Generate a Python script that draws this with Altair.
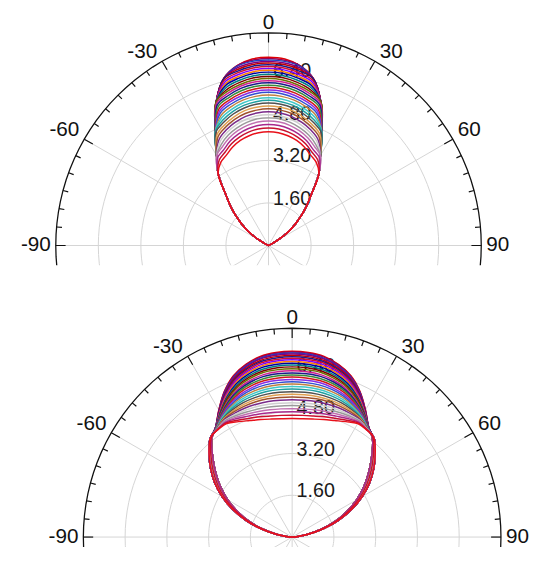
import altair as alt
import pandas as pd

# ---------------- data ----------------
ring_values = [1.6, 3.2, 4.8, 6.4]
ring_labels = ["1.60", "3.20", "4.80", "6.40"]
outer_radius = 8.0
spoke_angles = [0, 30, 60, 90, 120, 150, 180, 210, 240, 270, 300, 330]
label_angles = [-90, -60, -30, 0, 30, 60, 90]
label_texts = ["-90", "-60", "-30", "0", "30", "60", "90"]

# upper chart: radius at 0,5,...,30 deg (curve by curve, innermost first)
top_half_angles = [0, 5, 10, 15, 20, 25, 30]
top_profiles = [
    [4.28, 4.26, 4.19, 4.09, 3.94, 3.75, 3.60],
    [4.42, 4.40, 4.33, 4.22, 4.07, 3.87, 3.71],
    [4.55, 4.53, 4.46, 4.35, 4.19, 3.98, 3.82],
    [4.68, 4.66, 4.59, 4.47, 4.31, 4.10, 3.90],
    [4.80, 4.78, 4.70, 4.58, 4.42, 4.20, 3.90],
    [4.92, 4.90, 4.82, 4.70, 4.53, 4.31, 3.90],
    [5.03, 5.00, 4.93, 4.80, 4.63, 4.40, 3.90],
    [5.14, 5.11, 5.04, 4.91, 4.73, 4.50, 3.90],
    [5.25, 5.22, 5.15, 5.01, 4.83, 4.59, 3.90],
    [5.36, 5.33, 5.25, 5.12, 4.93, 4.69, 3.90],
    [5.46, 5.43, 5.35, 5.21, 5.02, 4.73, 3.90],
    [5.56, 5.53, 5.45, 5.31, 5.12, 4.73, 3.90],
    [5.66, 5.63, 5.55, 5.41, 5.21, 4.73, 3.90],
    [5.76, 5.73, 5.64, 5.50, 5.30, 4.73, 3.90],
    [5.85, 5.82, 5.73, 5.59, 5.38, 4.73, 3.90],
    [5.94, 5.91, 5.82, 5.67, 5.46, 4.73, 3.90],
    [6.03, 6.00, 5.91, 5.76, 5.55, 4.73, 3.90],
    [6.12, 6.09, 6.00, 5.84, 5.63, 4.73, 3.90],
    [6.20, 6.17, 6.08, 5.92, 5.70, 4.73, 3.90],
    [6.28, 6.25, 6.15, 6.00, 5.75, 4.73, 3.90],
    [6.36, 6.33, 6.23, 6.07, 5.75, 4.73, 3.90],
    [6.44, 6.41, 6.31, 6.15, 5.75, 4.73, 3.90],
    [6.52, 6.49, 6.39, 6.23, 5.75, 4.73, 3.90],
    [6.59, 6.56, 6.46, 6.29, 5.75, 4.73, 3.90],
    [6.66, 6.63, 6.53, 6.36, 5.75, 4.73, 3.90],
    [6.73, 6.70, 6.60, 6.43, 5.75, 4.73, 3.90],
    [6.80, 6.77, 6.66, 6.49, 5.75, 4.73, 3.90],
    [6.86, 6.83, 6.72, 6.50, 5.75, 4.73, 3.90],
    [6.92, 6.89, 6.78, 6.50, 5.75, 4.73, 3.90],
    [6.98, 6.95, 6.84, 6.50, 5.75, 4.73, 3.90],
    [7.03, 6.99, 6.86, 6.50, 5.75, 4.73, 3.90],
    [7.08, 7.04, 6.86, 6.50, 5.75, 4.73, 3.90],
]
# shared lower flank of the upper chart
top_flank_angles = [35, 40, 45, 50, 55, 60, 65, 70]
top_flank = [3.30, 2.50, 1.95, 1.42, 0.95, 0.40, 0.06, 0.0]

# lower chart: radius at 0,5,...,35 deg (innermost first)
bottom_half_angles = [0, 5, 10, 15, 20, 25, 30, 35]
bottom_profiles = [
    [4.54, 4.55, 4.59, 4.66, 4.75, 4.88, 5.02, 5.00],
    [4.67, 4.68, 4.71, 4.77, 4.84, 4.94, 5.05, 5.01],
    [4.80, 4.81, 4.84, 4.88, 4.93, 5.01, 5.08, 5.01],
    [4.92, 4.93, 4.95, 4.98, 5.02, 5.07, 5.11, 5.02],
    [5.04, 5.04, 5.06, 5.08, 5.10, 5.13, 5.14, 5.02],
    [5.15, 5.15, 5.17, 5.18, 5.18, 5.18, 5.16, 5.03],
    [5.26, 5.26, 5.27, 5.27, 5.26, 5.23, 5.19, 5.03],
    [5.37, 5.37, 5.38, 5.37, 5.34, 5.29, 5.21, 5.04],
    [5.47, 5.47, 5.47, 5.45, 5.41, 5.34, 5.24, 5.04],
    [5.57, 5.57, 5.56, 5.53, 5.48, 5.39, 5.26, 5.05],
    [5.67, 5.67, 5.66, 5.62, 5.55, 5.44, 5.28, 5.05],
    [5.77, 5.77, 5.75, 5.70, 5.62, 5.49, 5.31, 5.06],
    [5.86, 5.86, 5.84, 5.78, 5.69, 5.53, 5.33, 5.06],
    [5.95, 5.94, 5.92, 5.86, 5.75, 5.57, 5.35, 5.07],
    [6.04, 6.03, 6.01, 5.93, 5.81, 5.62, 5.37, 5.07],
    [6.13, 6.12, 6.09, 6.01, 5.88, 5.66, 5.39, 5.07],
    [6.21, 6.20, 6.17, 6.08, 5.94, 5.70, 5.41, 5.08],
    [6.29, 6.28, 6.25, 6.15, 5.99, 5.74, 5.43, 5.08],
    [6.37, 6.36, 6.32, 6.21, 6.05, 5.78, 5.45, 5.09],
    [6.45, 6.44, 6.40, 6.28, 6.11, 5.82, 5.46, 5.09],
    [6.52, 6.51, 6.46, 6.34, 6.15, 5.86, 5.48, 5.09],
    [6.59, 6.58, 6.53, 6.40, 6.20, 5.89, 5.50, 5.10],
    [6.66, 6.65, 6.60, 6.46, 6.25, 5.92, 5.51, 5.10],
    [6.73, 6.71, 6.66, 6.52, 6.30, 5.96, 5.53, 5.10],
    [6.79, 6.77, 6.72, 6.57, 6.35, 5.99, 5.54, 5.11],
    [6.85, 6.83, 6.78, 6.62, 6.39, 6.02, 5.56, 5.11],
    [6.91, 6.89, 6.83, 6.67, 6.43, 6.05, 5.57, 5.11],
    [6.96, 6.94, 6.88, 6.71, 6.47, 6.07, 5.58, 5.11],
    [7.01, 6.99, 6.93, 6.76, 6.50, 6.10, 5.59, 5.12],
    [7.05, 7.03, 6.96, 6.79, 6.53, 6.12, 5.60, 5.12],
    [7.09, 7.07, 7.00, 6.83, 6.56, 6.14, 5.61, 5.12],
    [7.12, 7.10, 7.03, 6.85, 6.58, 6.15, 5.62, 5.12],
]
# the lower flanks of the lower chart form a band: three edges of it
bottom_flank_angles = [38, 40, 45, 50, 55, 60, 65, 70, 75, 80, 85, 90]
bottom_flanks = [
    [4.98, 4.90, 4.50, 4.08, 3.62, 3.10, 2.52, 1.90, 1.25, 0.62, 0.18, 0.0],
    [4.95, 4.80, 4.30, 3.82, 3.35, 2.85, 2.30, 1.75, 1.15, 0.58, 0.16, 0.0],
    [4.96, 4.85, 4.40, 3.95, 3.48, 2.97, 2.41, 1.82, 1.20, 0.60, 0.17, 0.0],
]
bottom_flank_id = [0, 2, 1, 0, 1, 2, 0, 1, 2, 1, 0, 2, 1, 0, 2, 1,
                   2, 0, 1, 2, 0, 1, 0, 2, 1, 0, 2, 1, 0, 1, 2, 0]

# curve colours, innermost first
curve_colors = [
    "#e8101a", "#c8102e", "#a8288c", "#c070b0", "#9a9a9a", "#cfcfcf",
    "#7a2a8a", "#a0522d", "#e0a050", "#505050", "#1fa0a0", "#40c8c8",
    "#c08040", "#3050d0", "#8a2be2", "#d01818", "#3a8a3a", "#1a1a8a",
    "#d02090", "#707000", "#800000", "#008080", "#0000a0", "#ff8000",
    "#8000ff", "#d01030", "#1a1a8a", "#c00000", "#800080", "#2040c0",
    "#a00050", "#e00000",
]

FONT = "Liberation Sans"
GRID = "#d4d4d4"
XY = dict(x="datum.r*sin(datum.theta*PI/180)", y="datum.r*cos(datum.theta*PI/180)")
PANEL_W = 531


def build_panel(profiles, half_angles, flank_angles, flank_of, ppu, xdom, ydom, h):
    n = len(profiles)
    rows = []
    for i, prof in enumerate(profiles):
        name = f"s{n - 1 - i:02d}"
        fl = flank_of(i)
        pts = [(-a, v) for a, v in zip(flank_angles[::-1], fl[::-1])]
        pts += [(-a, v) for a, v in zip(half_angles[:0:-1], prof[:0:-1])]
        pts += [(a, v) for a, v in zip(half_angles, prof)]
        pts += [(a, v) for a, v in zip(flank_angles, fl)]
        for k, (t, r) in enumerate(pts):
            rows.append({"series": name, "k": k, "theta": t, "r": r})
    curve_df = pd.DataFrame(rows).sort_values(["series", "k"])
    dom = [f"s{j:02d}" for j in range(n)]
    rng = [curve_colors[n - 1 - j] for j in range(n)]

    xs = alt.Scale(domain=xdom, nice=False, zero=False)
    ys = alt.Scale(domain=ydom, nice=False, zero=False)
    X = alt.X("x:Q", scale=xs, axis=None)
    Y = alt.Y("y:Q", scale=ys, axis=None)

    circ_rows = []
    for rv in ring_values + [outer_radius]:
        for k, phi in enumerate(range(-180, 181, 3)):
            circ_rows.append({"ring": rv, "k": k, "theta": phi, "r": rv})
    circ_df = pd.DataFrame(circ_rows)

    rings = alt.Chart(circ_df).transform_filter("datum.ring < 7.9").transform_calculate(**XY).mark_line(
        color=GRID, strokeWidth=1, clip=True
    ).encode(x=X, y=Y, detail="ring:N", order="k:Q")

    spokes = alt.Chart(pd.DataFrame({"theta": spoke_angles, "r": outer_radius})).transform_calculate(
        **XY, x0="0", y0="0"
    ).mark_rule(color=GRID, strokeWidth=1, clip=True).encode(x=X, y=Y, x2="x0:Q", y2="y0:Q")

    rlabels = alt.Chart(pd.DataFrame({"theta": 0, "r": ring_values, "label": ring_labels})).transform_calculate(
        **XY
    ).mark_text(align="left", baseline="middle", dx=4.5, dy=-4, fontSize=20, font=FONT, color="#1a1a1a").encode(
        x=X, y=Y, text="label:N"
    )

    curves = alt.Chart(curve_df).transform_calculate(**XY).mark_line(
        interpolate="catmull-rom", strokeWidth=1.5, clip=True
    ).encode(
        x=X, y=Y,
        color=alt.Color("series:N", scale=alt.Scale(domain=dom, range=rng), legend=None),
        order="k:Q",
    )

    outer = alt.Chart(circ_df).transform_filter("datum.ring > 7.9").transform_calculate(**XY).mark_line(
        color="#111111", strokeWidth=1.3, clip=True
    ).encode(x=X, y=Y, order="k:Q")

    tick_df = pd.DataFrame({"theta": list(range(-90, 91, 5))})
    tick_df["major"] = tick_df["theta"] % 30 == 0
    tick_df["r"] = outer_radius
    ticks = alt.Chart(tick_df).transform_calculate(
        **XY,
        r2=f"{outer_radius} - (datum.major ? 10 : 5.5) / {ppu}",
    ).transform_calculate(
        x2="datum.r2*sin(datum.theta*PI/180)", y2="datum.r2*cos(datum.theta*PI/180)"
    ).mark_rule(color="#111111", strokeWidth=1.2, clip=True).encode(x=X, y=Y, x2="x2:Q", y2="y2:Q")

    lab_df = pd.DataFrame({"theta": label_angles, "label": label_texts, "r": outer_radius})
    base = alt.Chart(lab_df).transform_calculate(**XY)
    style = dict(fontSize=21, font=FONT, color="#111111", clip=True)
    lab_neg = base.transform_filter("datum.theta < 0 && datum.theta > -90").mark_text(
        align="right", baseline="alphabetic", dx=-5, dy=-3, **style).encode(x=X, y=Y, text="label:N")
    lab_pos = base.transform_filter("datum.theta > 0 && datum.theta < 90").mark_text(
        align="left", baseline="alphabetic", dx=5, dy=-3, **style).encode(x=X, y=Y, text="label:N")
    lab_zero = base.transform_filter("datum.theta == 0").mark_text(
        align="center", baseline="alphabetic", dy=-4, **style).encode(x=X, y=Y, text="label:N")
    lab_m90 = base.transform_filter("datum.theta == -90").mark_text(
        align="right", baseline="middle", dx=-5, **style).encode(x=X, y=Y, text="label:N")
    lab_p90 = base.transform_filter("datum.theta == 90").mark_text(
        align="left", baseline="middle", dx=5, **style).encode(x=X, y=Y, text="label:N")

    return alt.layer(
        rings, spokes, rlabels, curves, outer, ticks, lab_neg, lab_pos, lab_zero, lab_m90, lab_p90
    ).properties(width=PANEL_W, height=h)


top = build_panel(
    top_profiles, top_half_angles, top_flank_angles, lambda i: top_flank, 27.0,
    [-(272.5 - 8) / 27.0, (8 + PANEL_W - 272.5) / 27.0], [-(265 - 245) / 27.0, (245 - 8) / 27.0], 257,
)
bottom = build_panel(
    bottom_profiles, bottom_half_angles, bottom_flank_angles,
    lambda i: bottom_flanks[bottom_flank_id[i]], 26.5,
    [-(296.5 - 8) / 26.5, (8 + PANEL_W - 296.5) / 26.5], [-(551 - 541) / 26.5, (541 - 290) / 26.5], 261,
)

chart = alt.vconcat(top, bottom, spacing=25).resolve_scale(
    x="independent", y="independent", color="independent"
).properties(padding=0).configure_view(stroke=None)

chart.save("out.html", embed_options={"renderer": "svg", "actions": False})
